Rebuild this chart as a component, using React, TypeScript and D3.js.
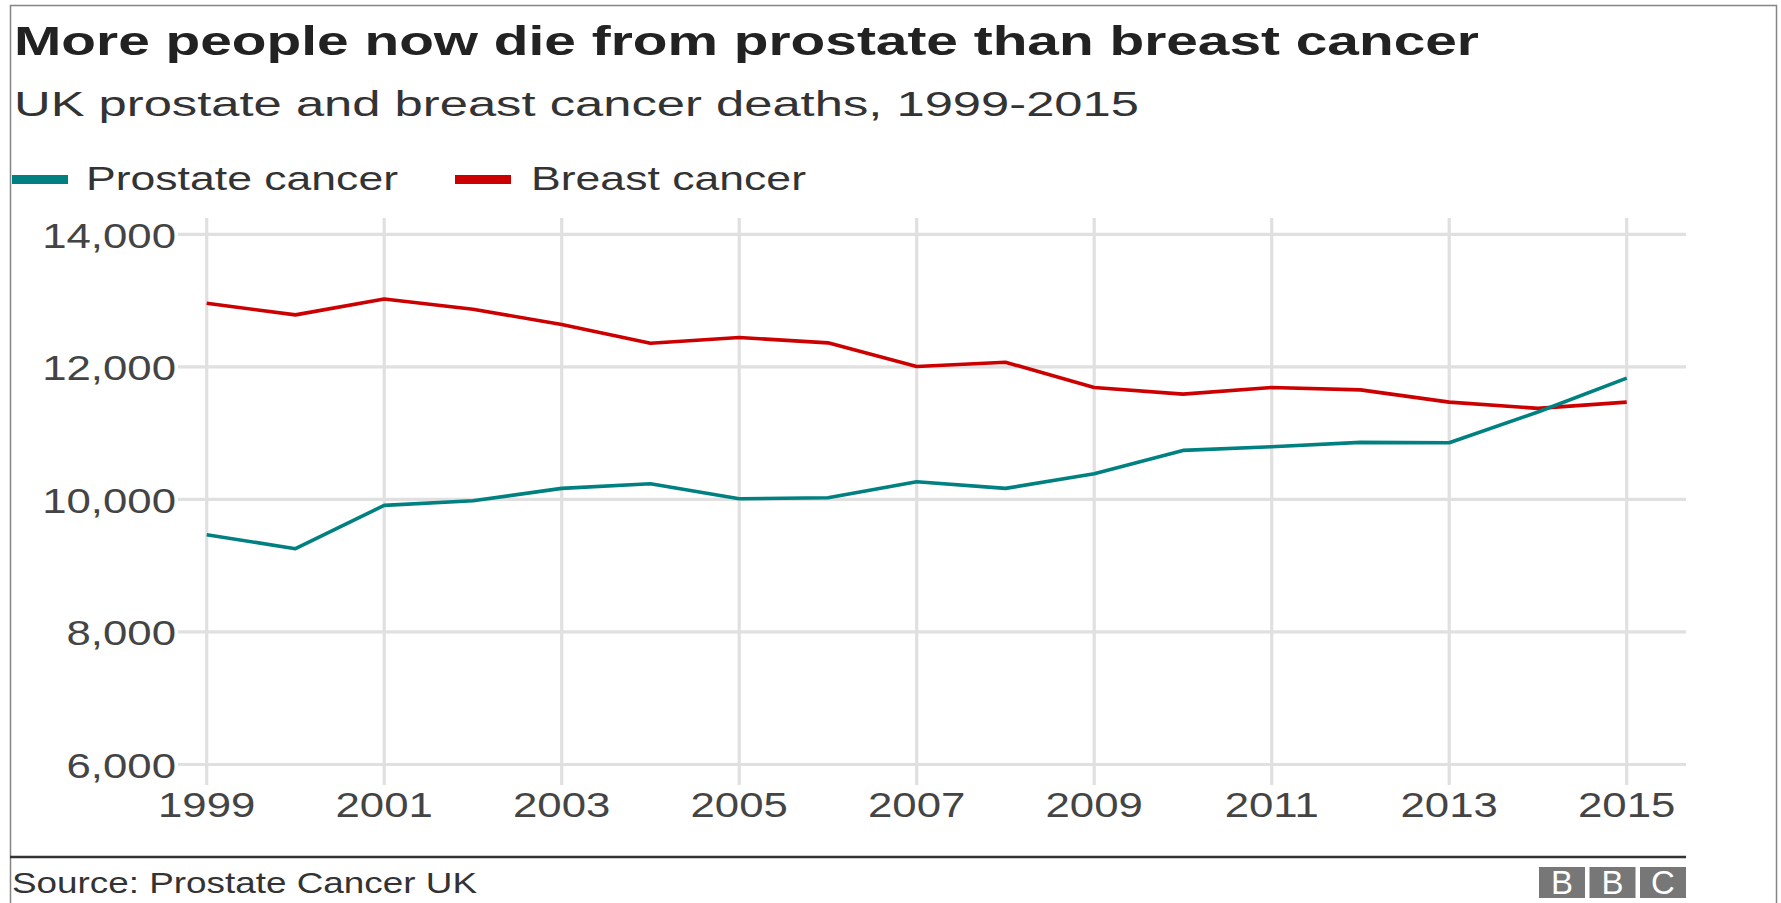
import { useEffect, useRef } from "react";
import * as d3 from "d3";

// data (UK deaths per year)
const years = [1999, 2000, 2001, 2002, 2003, 2004, 2005, 2006, 2007, 2008, 2009, 2010, 2011, 2012, 2013, 2014, 2015];
const prostate = [9468, 9256, 9910, 9980, 10166, 10237, 10010, 10025, 10267, 10166, 10388, 10739, 10795, 10860, 10855, 11318, 11830];
const breast = [12960, 12784, 13025, 12870, 12638, 12357, 12442, 12362, 12005, 12070, 11688, 11588, 11688, 11653, 11468, 11374, 11468];

const yTicks = [6000, 8000, 10000, 12000, 14000];
const xTicks = [1999, 2001, 2003, 2005, 2007, 2009, 2011, 2013, 2015];

const titleText = "More people now die from prostate than breast cancer";
const subtitleText = "UK prostate and breast cancer deaths, 1999-2015";
const sourceText = "Source: Prostate Cancer UK";

const series = [
  { name: "Prostate cancer", color: "#008080", values: prostate },
  { name: "Breast cancer", color: "#cc0000", values: breast },
];

const W = 1781;
const H = 903;
const FONT = "'Liberation Sans', Arial, Helvetica, sans-serif";

export default function App() {
  const svgRef = useRef<SVGSVGElement>(null);

  useEffect(() => {
    const svg = d3.select(svgRef.current);
    svg.selectAll("*").remove();

    const x = d3.scaleLinear().domain([1999, 2015]).range([206.7, 1626.7]);
    const y = d3.scaleLinear().domain([6000, 14000]).range([764.5, 234.3]);

    // the source image is stretched sideways, so text gets pulled wide too
    const widen = (sel: any, k: number) =>
      sel.each(function (this: SVGTextElement) {
        const len = this.getComputedTextLength();
        this.setAttribute("textLength", String(len * k));
        this.setAttribute("lengthAdjust", "spacingAndGlyphs");
      });
    const fit = (sel: any, w: number) =>
      sel.attr("textLength", w).attr("lengthAdjust", "spacingAndGlyphs");

    svg.append("rect").attr("width", W).attr("height", H).attr("fill", "#fff");

    // frame
    svg.append("rect")
      .attr("x", 10.5).attr("y", 5.5)
      .attr("width", 1766).attr("height", 1000)
      .attr("fill", "none").attr("stroke", "#858585").attr("stroke-width", 1.5);

    // ---------- HEADINGS ----------
    fit(svg.append("text")
      .attr("x", 14).attr("y", 55)
      .attr("font-family", FONT).attr("font-size", 41).attr("font-weight", "bold")
      .attr("fill", "#222")
      .text(titleText), 1465);

    fit(svg.append("text")
      .attr("x", 14).attr("y", 116)
      .attr("font-family", FONT).attr("font-size", 35)
      .attr("fill", "#333")
      .text(subtitleText), 1125);

    // ---------- LEGEND ----------
    const legendPos = [
      { sx: 12, tx: 86, w: 312 },
      { sx: 455, tx: 531, w: 275 },
    ];
    series.forEach((s, i) => {
      const p = legendPos[i];
      svg.append("rect")
        .attr("x", p.sx).attr("y", 175)
        .attr("width", 56).attr("height", 9)
        .attr("fill", s.color);
      fit(svg.append("text")
        .attr("x", p.tx).attr("y", 190)
        .attr("font-family", FONT).attr("font-size", 34)
        .attr("fill", "#333")
        .text(s.name), p.w);
    });

    // ---------- GRID ----------
    const grid = svg.append("g").attr("stroke", "#e0e0e0").attr("stroke-width", 3.2);
    grid.selectAll("line.h")
      .data(yTicks)
      .join("line")
      .attr("x1", 178).attr("x2", 1686)
      .attr("y1", d => y(d)).attr("y2", d => y(d));
    grid.selectAll("line.v")
      .data(xTicks)
      .join("line")
      .attr("x1", d => x(d)).attr("x2", d => x(d))
      .attr("y1", 218).attr("y2", 785);

    // ---------- AXIS LABELS ----------
    widen(svg.append("g")
      .selectAll("text")
      .data(yTicks)
      .join("text")
      .attr("x", 176).attr("y", d => y(d)).attr("dy", "0.38em")
      .attr("text-anchor", "end")
      .attr("font-family", FONT).attr("font-size", 35)
      .attr("fill", "#444")
      .text(d => d3.format(",")(d)), 1.25);

    widen(svg.append("g")
      .selectAll("text")
      .data(xTicks)
      .join("text")
      .attr("x", d => x(d)).attr("y", 817)
      .attr("text-anchor", "middle")
      .attr("font-family", FONT).attr("font-size", 35)
      .attr("fill", "#444")
      .text(d => String(d)), 1.25);

    // ---------- LINES ----------
    const line = d3.line<number>()
      .x((_, i) => x(years[i]))
      .y(d => y(d));

    [series[1], series[0]].forEach(s => {
      svg.append("path")
        .attr("d", line(s.values))
        .attr("fill", "none")
        .attr("stroke", s.color)
        .attr("stroke-width", 3.6)
        .attr("stroke-linejoin", "round");
    });

    // ---------- FOOTER ----------
    svg.append("line")
      .attr("x1", 10).attr("x2", 1686)
      .attr("y1", 857).attr("y2", 857)
      .attr("stroke", "#333").attr("stroke-width", 2.5);

    fit(svg.append("text")
      .attr("x", 12).attr("y", 893)
      .attr("font-family", FONT).attr("font-size", 29)
      .attr("fill", "#333")
      .text(sourceText), 465);

    const logo = svg.append("g");
    ["B", "B", "C"].forEach((ch, i) => {
      const bx = 1539 + i * 50.5;
      logo.append("rect")
        .attr("x", bx).attr("y", 867)
        .attr("width", 46).attr("height", 31)
        .attr("fill", "#777");
      logo.append("text")
        .attr("x", bx + 23).attr("y", 894)
        .attr("text-anchor", "middle")
        .attr("font-family", FONT).attr("font-size", 33)
        .attr("fill", "#fff")
        .text(ch);
    });
  }, []);

  return (
    <svg
      ref={svgRef}
      width={W}
      height={H}
      style={{ position: "absolute", left: 0, top: 0, display: "block" }}
    />
  );
}
